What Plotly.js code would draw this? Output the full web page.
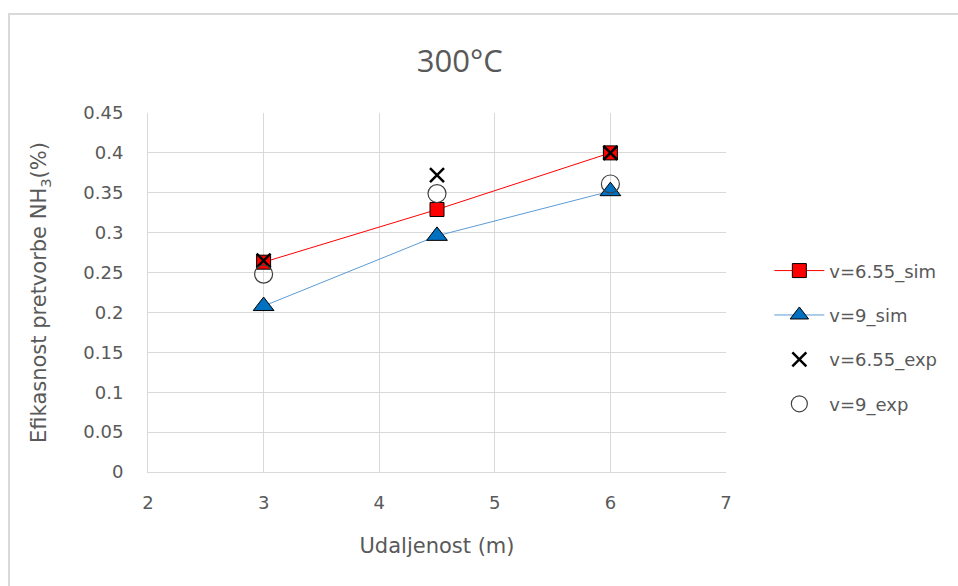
<!DOCTYPE html>
<html>
<head>
<meta charset="utf-8">
<script src="https://cdn.plot.ly/plotly-3.0.1.min.js"></script>
<style>
  html, body { margin: 0; padding: 0; background: #fff; }
  #wrap { position: relative; width: 958px; height: 586px; overflow: hidden; }
  #frame { position: absolute; left: 8px; top: 13px; width: 1000px; height: 700px;
           border-left: 2px solid #d9d9d9; border-top: 2px solid #d9d9d9; }
  #chart { position: absolute; left: 0; top: 0; width: 958px; height: 586px; }
</style>
</head>
<body>
<div id="wrap">
  <div id="frame"></div>
  <div id="chart"></div>
</div>
<script>
const distance = [3, 4.5, 6];
const sim655 = [0.263, 0.329, 0.400];
const sim9 = [0.208, 0.296, 0.352];
const exp655 = [0.265, 0.372, 0.400];
const exp9 = [0.248, 0.349, 0.361];
const seriesNames = ['v=6.55_sim', 'v=9_sim', 'v=6.55_exp', 'v=9_exp'];
const xTicks = [2, 3, 4, 5, 6, 7];
const yTicks = [0, 0.05, 0.1, 0.15, 0.2, 0.25, 0.3, 0.35, 0.4, 0.45];

const FONT = '"DejaVu Sans", sans-serif';
const TFONT = '"Open Sans", sans-serif';
const GRAY = '#595959';

const traces = [
  { x: distance, y: sim655, name: seriesNames[0], mode: 'lines+markers', legendgroup: 'a',
    line: { color: '#FF0000', width: 1 },
    marker: { symbol: 'square', size: 14, color: '#FF0000', line: { color: '#000', width: 1 } } },
  { x: distance, y: sim9, name: seriesNames[1], mode: 'lines+markers', legendgroup: 'b',
    line: { color: '#5B9BD5', width: 1 },
    marker: { symbol: 'triangle-up', size: 18, color: '#0070C0', line: { color: '#000', width: 1 } } },
  { x: distance, y: exp655, name: seriesNames[2], mode: 'markers', legendgroup: 'c',
    marker: { symbol: 'x-thin-open', size: 14, color: '#000', line: { color: '#000', width: 2.5 } } },
  { x: distance, y: exp9, name: seriesNames[3], mode: 'markers', legendgroup: 'd',
    marker: { symbol: 'circle-open', size: 18, color: '#404040', line: { color: '#404040', width: 1.2 } } }
];

const layout = {
  width: 958, height: 586,
  paper_bgcolor: 'rgba(0,0,0,0)', plot_bgcolor: '#fff',
  margin: { l: 148, r: 232, t: 113, b: 114 },
  font: { family: FONT, color: GRAY, size: 18 },
  title: { text: '300°C', x: 0.48, xanchor: 'center', y: 0.895, yanchor: 'middle',
           font: { family: TFONT, size: 31, color: GRAY } },
  xaxis: {
    range: [2, 7], tickvals: xTicks, ticks: '', showgrid: true, gridcolor: '#d9d9d9', gridwidth: 1,
    showline: true, linecolor: '#d9d9d9', linewidth: 1, zeroline: false,
    tickfont: { family: FONT, size: 18, color: GRAY }, ticklabelstandoff: 14,
    title: { text: 'Udaljenost (m)', font: { family: FONT, size: 21, color: GRAY }, standoff: 26 }
  },
  yaxis: {
    range: [0, 0.45], tickvals: yTicks, ticktext: yTicks.map(String), ticks: '',
    showgrid: true, gridcolor: '#d9d9d9', gridwidth: 1,
    showline: true, linecolor: '#d9d9d9', linewidth: 1, zeroline: false,
    tickfont: { family: FONT, size: 18, color: GRAY }, ticklabelstandoff: 20,
    title: { text: 'Efikasnost pretvorbe NH<sub>3</sub>(%)', font: { family: FONT, size: 21, color: GRAY }, standoff: 30 }
  },
  showlegend: true,
  legend: {
    x: 1.075, xanchor: 'left', y: 0.375, yanchor: 'middle',
    traceorder: 'grouped', tracegroupgap: 18,
    font: { family: FONT, size: 18, color: GRAY }, bgcolor: 'rgba(0,0,0,0)', itemwidth: 50
  }
};

Plotly.newPlot('chart', traces, layout, { displayModeBar: false, staticPlot: true });
</script>
</body>
</html>
